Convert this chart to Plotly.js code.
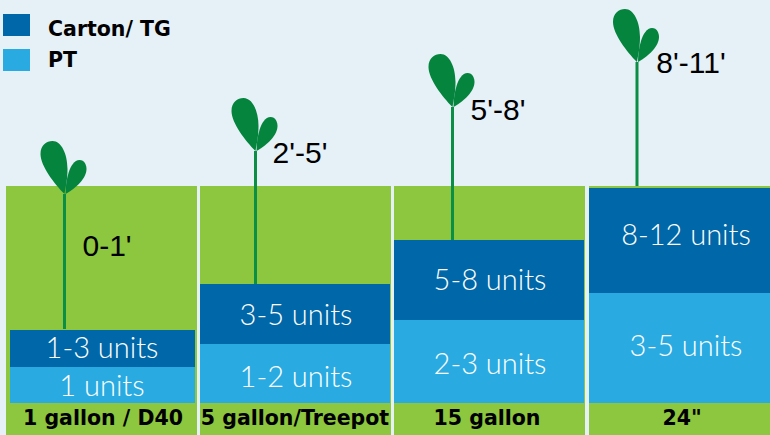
<!DOCTYPE html>
<html><head><meta charset="utf-8">
<script src="https://cdn.plot.ly/plotly-3.0.1.min.js"></script>
<style>html,body{margin:0;padding:0;background:#e5f0f7}#c{width:770px;height:435px}</style>
</head><body><div id="c"></div>
<script>
const containers = ['1 gallon / D40', '5 gallon/Treepot', '15 gallon', '24"'];
const ptValues = [36, 59, 83, 110];
const cartonValues = [37, 60, 80, 105];
const ptLabels = ['1 units', '1-2 units', '2-3 units', '3-5 units'];
const cartonLabels = ['1-3 units', '3-5 units', '5-8 units', '8-12 units'];
const heightLabels = ["0-1'", "2'-5'", "5'-8'", "8'-11'"];
const plantTops = [209, 252, 296, 341];
const stemBottoms = [74, 119, 163, 217];

const panelLeft = [6, 200, 394, 589], panelRight = [197, 391, 585, 770];
const barLeft = [10, 200, 394, 589], barRight = [195, 390, 584, 770];
const stemX = [64.5, 255.5, 452.5, 637];
const heightLabelX = [107, 300, 498, 691];
const heightLabelY = [155, 248, 291, 338];
const labelX = [102, 296, 490, 686];
const ptLabelY = [14.5, 23.5, 36, 54];
const cartonLabelY = [52.5, 85, 120.5, 165];
const footX = [103, 295, 487, 682];
const footY = -17, panelTop = 217, footBottom = -32;
const C = {bg:'#e5f0f7', green:'#8dc63f', dark:'#0067a8', light:'#29abe2', leaf:'#04843c', stem:'#0a8f45'};
const mid = (a,b)=>a.map((v,i)=>(v+b[i])/2), diff=(a,b)=>a.map((v,i)=>b[i]-v);
const unitFont = {family:'Lato, "Open Sans", sans-serif', size:29, weight:300, color:'#fff'};
const barBase = {type:'bar', orientation:'v', hoverinfo:'skip', showlegend:false, cliponaxis:false};
const textBase = {type:'scatter', mode:'text', hoverinfo:'skip', showlegend:false, textposition:'middle center'};
const headFont = '"DejaVu Sans", sans-serif';

const traces = [
  {...barBase, x:mid(panelLeft,panelRight), width:diff(panelLeft,panelRight),
    y:panelRight.map(()=>panelTop-footBottom), base:panelRight.map(()=>footBottom), marker:{color:C.green,line:{width:0}}},
  {...barBase, name:'PT', x:mid(barLeft,barRight), width:diff(barLeft,barRight), y:ptValues, base:ptValues.map(()=>0),
    marker:{color:C.light,line:{width:0}}},
  {...barBase, name:'Carton/ TG', x:mid(barLeft,barRight), width:diff(barLeft,barRight), y:cartonValues, base:ptValues,
    marker:{color:C.dark,line:{width:0}}},
  {type:'scatter', mode:'lines', hoverinfo:'skip', showlegend:false, line:{color:C.stem,width:3},
    x:stemX.flatMap(v=>[v,v,null]), y:plantTops.flatMap((t,i)=>[stemBottoms[i],t,null])},
  {...textBase, x:labelX, y:ptLabelY, text:ptLabels, textfont:unitFont},
  {...textBase, x:labelX, y:cartonLabelY, text:cartonLabels, textfont:unitFont},
  {...textBase, x:footX, y:panelLeft.map(()=>footY), text:containers.map(s=>'<b>'+s+'</b>'),
    textfont:{family:headFont,size:20.5,color:'#000'}},
  {...textBase, x:heightLabelX, y:heightLabelY, text:heightLabels,
    textfont:{family:'"Liberation Sans", sans-serif',size:30,color:'#000'}}
];

const bigLeaf = 'M0,0 C-10,10 -24,28 -24,40 C-24,49 -18,53 -12,53 C-3,53 3,40 3,25 C3,14 1,6 0,0 Z';
const smallLeaf = 'M1,0 C1,8 2,14 4,21 C6,28 10,34 15,34 C20,34 22,29 22,25 C22,14 8,4 1,0 Z';
const shapes = [];
stemX.forEach((x,i)=>[bigLeaf,smallLeaf].forEach(path=>shapes.push({type:'path',path,xsizemode:'pixel',ysizemode:'pixel',
  xanchor:x,yanchor:plantTops[i],xref:'x',yref:'y',fillcolor:C.leaf,line:{width:0}})));
[[C.dark,14,36],[C.light,49,71]].forEach(([c,t,b])=>shapes.push({type:'rect',xref:'paper',yref:'paper',
  x0:3/770,x1:30/770,y0:1-b/435,y1:1-t/435,fillcolor:c,line:{width:0}}));
const legendText=[['Carton/ TG',29],['PT',60]].map(([t,y])=>({text:'<b>'+t+'</b>',xref:'paper',yref:'paper',x:46/770,y:1-y/435,
  xanchor:'left',yanchor:'middle',showarrow:false,font:{family:headFont,size:20.5,color:'#000'}}));

Plotly.newPlot('c',traces,{
  width:770,height:435,margin:{l:0,r:0,t:0,b:0},paper_bgcolor:C.bg,plot_bgcolor:C.bg,barmode:'overlay',showlegend:false,
  xaxis:{range:[0,770],visible:false,fixedrange:true},
  yaxis:{range:[-32,403],visible:false,fixedrange:true},
  shapes,annotations:legendText
},{displayModeBar:false,staticPlot:true});
</script></body></html>
